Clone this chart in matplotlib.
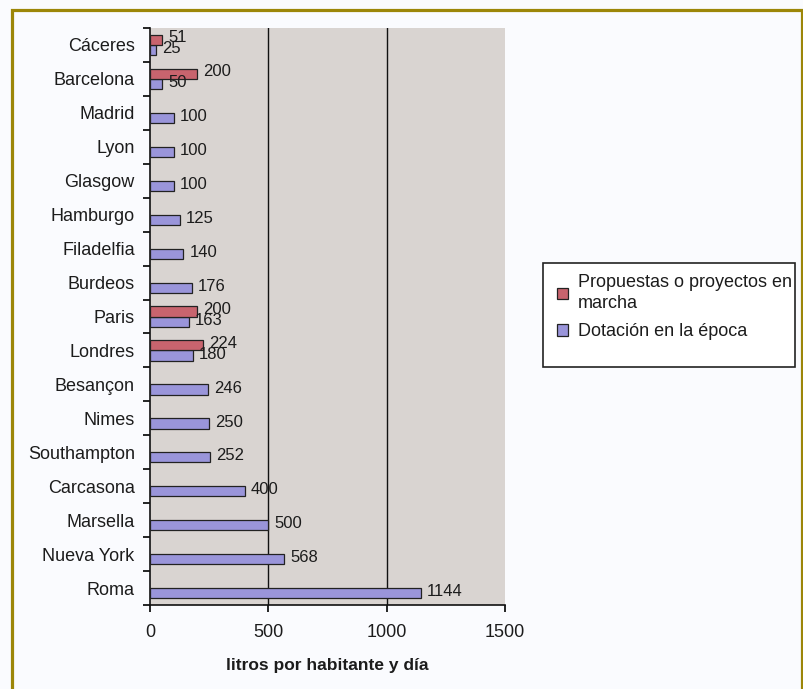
import matplotlib
matplotlib.use("Agg")
import matplotlib.pyplot as plt
from matplotlib.patches import Rectangle, Patch

# data, top to bottom as in the original chart
cities = ["Cáceres", "Barcelona", "Madrid", "Lyon", "Glasgow", "Hamburgo",
          "Filadelfia", "Burdeos", "Paris", "Londres", "Besançon", "Nimes",
          "Southampton", "Carcasona", "Marsella", "Nueva York", "Roma"]
dotacion = [25, 50, 100, 100, 100, 125, 140, 176, 163, 180, 246, 250,
            252, 400, 500, 568, 1144]
propuestas = [51, 200, None, None, None, None, None, None, 200, 224,
              None, None, None, None, None, None, None]
xticks = [0, 500, 1000, 1500]

label_prop = "Propuestas o proyectos en\nmarcha"
label_dot = "Dotación en la época"
xlabel = "litros por habitante y día"

RED = "#c8646e"
BLUE = "#9a95da"
PLOT_BG = "#d9d4d1"
FIG_BG = "#fafbfe"
TXT = "#1c1c1c"

plt.rcParams["font.family"] = ["Liberation Sans", "DejaVu Sans"]

fig = plt.figure(figsize=(8.04, 6.89), dpi=100, facecolor=FIG_BG)
ax = fig.add_axes([150 / 804, 1 - 605 / 689, 355 / 804, 577 / 689])
ax.set_facecolor(PLOT_BG)

h = 0.3
ypos = list(range(len(cities)))
ax.barh([y + h / 2 for y in ypos], dotacion, height=h, color=BLUE,
        edgecolor="#222222", linewidth=0.9, zorder=3)
prop_y = [y - h / 2 for y, v in zip(ypos, propuestas) if v is not None]
prop_v = [v for v in propuestas if v is not None]
ax.barh(prop_y, prop_v, height=h, color=RED, edgecolor="#222222",
        linewidth=0.9, zorder=3)

# value labels
for y, v in zip(ypos, dotacion):
    ax.annotate(str(v), (v, y + h / 2), xytext=(4.5, 1.0),
                textcoords="offset points", va="center", ha="left",
                fontsize=12, color=TXT, zorder=4)
for y, v in zip(prop_y, prop_v):
    ax.annotate(str(v), (v, y), xytext=(4.5, 1.5),
                textcoords="offset points", va="center", ha="left",
                fontsize=12, color=TXT, zorder=4)

for v in xticks[1:-1]:
    ax.axvline(v, color="#111111", linewidth=1.0, zorder=2)

ax.set_xlim(xticks[0], xticks[-1])
ax.set_ylim(len(cities) - 0.5, -0.5)
ax.set_xticks(xticks)
ax.set_xticklabels([str(t) for t in xticks], fontsize=13, color=TXT)
ax.set_yticks(ypos)
ax.set_yticklabels(cities, fontsize=13, color=TXT)
ax.set_yticks([y - 0.5 for y in range(len(cities) + 1)], minor=True)
ax.tick_params(axis="y", which="major", length=0, pad=11)
ax.tick_params(axis="y", which="minor", length=5, width=1.2, direction="out")
ax.tick_params(axis="x", length=5, width=1.2, direction="out", pad=9)
ax.set_xlabel(xlabel, fontsize=12.5, fontweight="bold", color=TXT, labelpad=12)

for side in ["top", "right"]:
    ax.spines[side].set_visible(False)
for side in ["left", "bottom"]:
    ax.spines[side].set_linewidth(1.2)
    ax.spines[side].set_color("#111111")

# legend with its own frame
fig.patches.append(Rectangle((543 / 804, 1 - 367 / 689), 252 / 804, 104 / 689,
                             transform=fig.transFigure, facecolor="white",
                             edgecolor="#222222", linewidth=1.2, zorder=0))
handles = [Patch(facecolor=RED, edgecolor="#222222", linewidth=0.9, label=label_prop),
           Patch(facecolor=BLUE, edgecolor="#222222", linewidth=0.9, label=label_dot)]
leg = fig.legend(handles=handles, loc="upper left",
                 bbox_to_anchor=(546 / 804, 1 - 263 / 689), frameon=False,
                 fontsize=13, handlelength=0.6, handleheight=0.6,
                 handletextpad=0.55, labelspacing=0.6, borderpad=0.1,
                 labelcolor=TXT)
for t in leg.get_texts():
    t.set_linespacing(1.35)

# golden outer frame
fig.patches.append(Rectangle((12.5 / 804, -0.05), 789.5 / 804, 1.05 - 9.5 / 689,
                             transform=fig.transFigure, fill=False,
                             edgecolor="#9c8608", linewidth=2.3, zorder=5))

fig.savefig("out.png", dpi=100, facecolor=FIG_BG)
